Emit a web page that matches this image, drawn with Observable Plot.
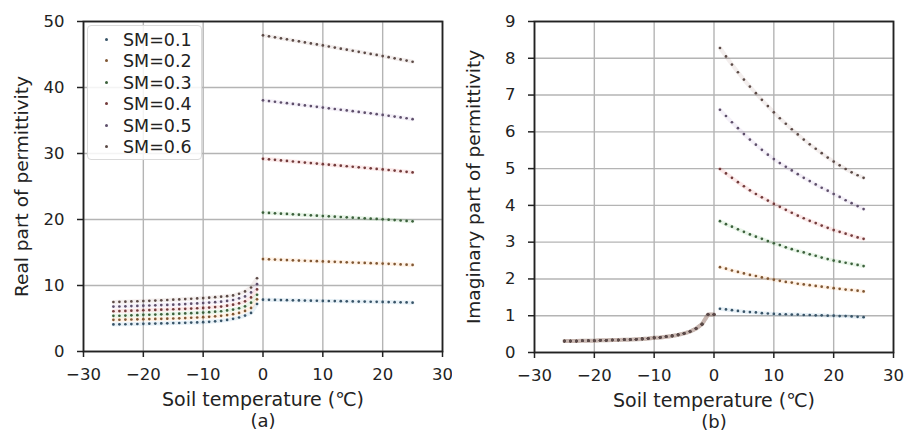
<!DOCTYPE html>
<html><head><meta charset="utf-8">
<script src="https://cdn.jsdelivr.net/npm/d3@7"></script>
<script src="https://cdn.jsdelivr.net/npm/@observablehq/plot@0.6"></script>
<style>
body{margin:0;background:#fff;font-family:"DejaVu Sans",sans-serif;}
#wrap{position:relative;width:904px;height:440px;display:flex;}
#legend{position:absolute;left:87px;top:25px;width:113px;height:133px;border:1px solid #dadada;border-radius:4px;background:rgba(255,255,255,0.85);}
.item{position:absolute;left:0;height:20px;font-size:17.5px;color:#222;line-height:20px;white-space:nowrap;}
.item span.dot{position:absolute;left:17px;top:8px;width:3px;height:3px;border-radius:50%;}
.item span.lab{position:absolute;left:35px;top:0;}
</style></head><body>
<div id="wrap"><div id="a"></div><div id="b"></div><div id="legend"></div></div>
<script>
// ---- data ----
const smLabels = ["SM=0.1","SM=0.2","SM=0.3","SM=0.4","SM=0.5","SM=0.6"];
const seriesColors = ["#1f77b4","#ff7f0e","#2ca02c","#d62728","#9467bd","#8c564b"];
const xTicks = [-30,-20,-10,0,10,20,30];
const yTicksReal = [0,10,20,30,40,50];
const yTicksImag = [0,1,2,3,4,5,6,7,8,9];

// temperatures
const tFrozenReal = [-25,-24,-23,-22,-21,-20,-19,-18,-17,-16,-15,-14,-13,-12,-11,-10,-9,-8,-7,-6,-5,-4,-3,-2,-1];
const tThawedReal = [0,1,2,3,4,5,6,7,8,9,10,11,12,13,14,15,16,17,18,19,20,21,22,23,24,25];
const tFrozenImag = [-25,-24,-23,-22,-21,-20,-19,-18,-17,-16,-15,-14,-13,-12,-11,-10,-9,-8,-7,-6,-5,-4,-3,-2,-1,0];
const tThawedImag = [1,2,3,4,5,6,7,8,9,10,11,12,13,14,15,16,17,18,19,20,21,22,23,24,25];

// (a) real part, frozen
const realFrozenSM01 = [4.10,4.11,4.13,4.15,4.17,4.20,4.21,4.23,4.25,4.27,4.30,4.32,4.35,4.38,4.41,4.45,4.50,4.57,4.65,4.78,4.95,5.15,5.45,5.85,7.20];
const realFrozenSM02 = [4.80,4.81,4.83,4.85,4.87,4.90,4.91,4.93,4.95,4.97,5.00,5.03,5.07,5.11,5.15,5.20,5.26,5.33,5.40,5.52,5.65,5.85,6.15,6.60,7.90];
const realFrozenSM03 = [5.40,5.42,5.45,5.48,5.51,5.55,5.57,5.60,5.63,5.66,5.70,5.73,5.77,5.81,5.85,5.90,5.96,6.03,6.10,6.22,6.35,6.55,6.85,7.40,8.60];
const realFrozenSM04 = [6.10,6.12,6.15,6.18,6.21,6.25,6.27,6.30,6.33,6.36,6.40,6.43,6.47,6.51,6.55,6.60,6.66,6.73,6.80,6.94,7.10,7.30,7.60,8.20,9.40];
const realFrozenSM05 = [6.80,6.82,6.85,6.88,6.91,6.95,6.97,7.00,7.03,7.06,7.10,7.14,7.19,7.24,7.29,7.35,7.41,7.48,7.55,7.66,7.80,8.05,8.35,8.95,10.20];
const realFrozenSM06 = [7.50,7.52,7.55,7.58,7.61,7.65,7.68,7.72,7.76,7.80,7.85,7.89,7.94,7.99,8.04,8.10,8.16,8.23,8.30,8.39,8.50,8.75,9.10,9.70,11.10];
// (a) real part, thawed
const realThawedSM01 = [7.85,7.83,7.81,7.79,7.77,7.76,7.74,7.72,7.70,7.69,7.67,7.65,7.64,7.62,7.60,7.59,7.57,7.56,7.54,7.53,7.51,7.49,7.47,7.45,7.43,7.40];
const realThawedSM02 = [14.00,13.96,13.93,13.89,13.85,13.82,13.78,13.75,13.71,13.68,13.65,13.61,13.58,13.55,13.51,13.48,13.45,13.42,13.38,13.35,13.32,13.28,13.24,13.20,13.16,13.12];
const realThawedSM03 = [21.05,21.00,20.94,20.89,20.84,20.79,20.73,20.68,20.63,20.58,20.53,20.48,20.43,20.38,20.33,20.28,20.23,20.18,20.13,20.08,20.03,19.97,19.91,19.85,19.78,19.72];
const realThawedSM04 = [29.20,29.12,29.04,28.95,28.87,28.79,28.71,28.63,28.55,28.47,28.39,28.31,28.23,28.15,28.07,27.99,27.91,27.83,27.75,27.67,27.58,27.50,27.41,27.32,27.23,27.14];
const realThawedSM05 = [38.05,37.95,37.84,37.73,37.62,37.51,37.40,37.29,37.18,37.07,36.96,36.85,36.74,36.63,36.52,36.41,36.30,36.19,36.08,35.96,35.84,35.72,35.60,35.47,35.34,35.20];
const realThawedSM06 = [47.90,47.75,47.60,47.45,47.30,47.14,46.99,46.83,46.68,46.52,46.37,46.21,46.05,45.89,45.73,45.57,45.41,45.25,45.09,44.93,44.76,44.59,44.42,44.25,44.08,43.90];

// (b) imaginary part, frozen (all SM levels overlap)
const imagFrozen = [0.31,0.31,0.31,0.32,0.32,0.32,0.33,0.33,0.34,0.34,0.35,0.35,0.36,0.37,0.38,0.40,0.41,0.43,0.45,0.48,0.52,0.57,0.65,0.77,1.03,1.03];
// (b) imaginary part, thawed
const imagThawedSM01 = [1.19,1.17,1.15,1.13,1.11,1.10,1.09,1.07,1.06,1.05,1.04,1.04,1.03,1.03,1.02,1.02,1.01,1.01,1.00,1.00,0.99,0.99,0.98,0.97,0.96];
const imagThawedSM02 = [2.32,2.28,2.23,2.19,2.15,2.11,2.08,2.04,2.01,1.98,1.95,1.92,1.90,1.87,1.85,1.83,1.81,1.79,1.77,1.75,1.73,1.71,1.70,1.68,1.66];
const imagThawedSM03 = [3.57,3.49,3.42,3.35,3.28,3.21,3.15,3.09,3.03,2.97,2.92,2.86,2.81,2.76,2.72,2.67,2.63,2.58,2.54,2.50,2.47,2.44,2.41,2.38,2.35];
const imagThawedSM04 = [4.99,4.87,4.75,4.63,4.52,4.41,4.31,4.22,4.13,4.04,3.96,3.88,3.80,3.72,3.65,3.58,3.52,3.45,3.39,3.33,3.28,3.23,3.18,3.13,3.09];
const imagThawedSM05 = [6.60,6.43,6.26,6.10,5.94,5.79,5.65,5.51,5.38,5.26,5.15,5.05,4.95,4.85,4.75,4.66,4.57,4.48,4.40,4.31,4.23,4.14,4.06,3.98,3.90];
const imagThawedSM06 = [8.28,8.05,7.83,7.62,7.42,7.23,7.05,6.87,6.70,6.53,6.37,6.22,6.07,5.93,5.79,5.66,5.54,5.42,5.30,5.19,5.09,4.99,4.90,4.82,4.75];

// ---- build tables ----
const realFrozen = [realFrozenSM01,realFrozenSM02,realFrozenSM03,realFrozenSM04,realFrozenSM05,realFrozenSM06];
const realThawed = [realThawedSM01,realThawedSM02,realThawedSM03,realThawedSM04,realThawedSM05,realThawedSM06];
const imagThawed = [imagThawedSM01,imagThawedSM02,imagThawedSM03,imagThawedSM04,imagThawedSM05,imagThawedSM06];

function rows(ts, vs, seg) { return ts.map((t, i) => ({T: t, v: vs[i], seg})); }
const dotColors = seriesColors.map(c => d3.interpolateRgb(c, "#444")(0.68));

const seriesA = smLabels.map((s, i) => rows(tFrozenReal, realFrozen[i], "f").concat(rows(tThawedReal, realThawed[i], "t")));
const seriesB = smLabels.map((s, i) => rows(tFrozenImag, imagFrozen, "f").concat(rows(tThawedImag, imagThawed[i], "t")));

const fmt = d => d < 0 ? "\u2212" + Math.abs(d) : String(d);

function panel(series, yDomain, yTicks, yLabel, tag, mL, mR, mB) {
  const marks = [
    Plot.gridX(xTicks, {stroke: "#b4b4b4", strokeOpacity: 1, strokeWidth: 1.4}),
    Plot.gridY(yTicks, {stroke: "#b4b4b4", strokeOpacity: 1, strokeWidth: 1.4}),
    Plot.axisX(xTicks, {tickSize: 6, tickPadding: 11, tickFormat: fmt, label: null, fontSize: 16.5, strokeWidth: 1.5, color: "#222"}),
    Plot.axisY(yTicks, {tickSize: 6, tickPadding: 13, label: null, fontSize: 16.5, strokeWidth: 1.5, color: "#222"})
  ];
  series.forEach((data, i) => {
    marks.push(Plot.line(data, {x: "T", y: "v", z: "seg", stroke: seriesColors[i], strokeOpacity: 0.1, strokeWidth: 4}));
  });
  series.forEach((data, i) => {
    marks.push(Plot.dot(data, {x: "T", y: "v", r: 1.35, fill: dotColors[i], stroke: "none"}));
  });
  marks.push(
    Plot.frame({stroke: "#222", strokeWidth: 1.8}),
    Plot.text(["Soil temperature (\u2103)"], {frameAnchor: "bottom", dy: 54, fontSize: 19, fill: "#222", textAnchor: "middle"}),
    Plot.text([tag], {frameAnchor: "bottom", dy: 75, fontSize: 18, fill: "#222", textAnchor: "middle"}),
    Plot.text([yLabel], {frameAnchor: "left", dx: -(mL - 22), rotate: -90, fontSize: 18.5, fill: "#222", textAnchor: "middle"})
  );
  return Plot.plot({
    width: 452, height: 440,
    marginLeft: mL, marginRight: mR, marginTop: 21, marginBottom: mB,
    style: {fontFamily: "DejaVu Sans, sans-serif", fontSize: "16px", color: "#222", background: "white", overflow: "visible"},
    x: {domain: [-30, 30]},
    y: {domain: yDomain},
    marks
  });
}

document.getElementById("a").appendChild(panel(seriesA, [0, 50], yTicksReal, "Real part of permittivity", "(a)", 83, 10, 89));
document.getElementById("b").appendChild(panel(seriesB, [0, 9], yTicksImag, "Imaginary part of permittivity", "(b)", 82, 11, 88));

// legend
const leg = document.getElementById("legend");
smLabels.forEach((s, i) => {
  const it = document.createElement("div");
  it.className = "item";
  it.style.top = (4 + i * 21.4) + "px";
  it.innerHTML = `<span class="dot" style="background:${dotColors[i]}"></span><span class="lab">${s}</span>`;
  leg.appendChild(it);
});
</script>
</body></html>
